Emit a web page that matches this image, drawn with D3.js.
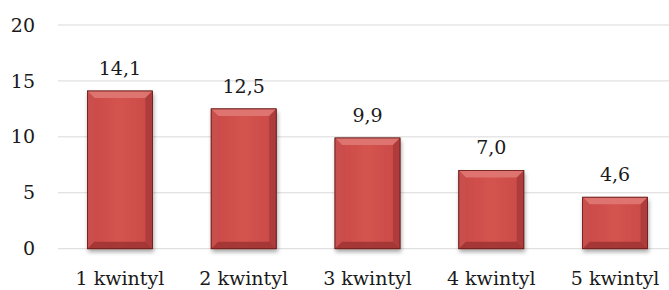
<!DOCTYPE html>
<html><head><meta charset="utf-8">
<script src="https://cdn.jsdelivr.net/npm/d3@7"></script>
<style>body{margin:0;background:#fff}svg{display:block}</style>
</head><body>
<script>
const categories = ["1 kwintyl","2 kwintyl","3 kwintyl","4 kwintyl","5 kwintyl"];
const values = [14.1, 12.5, 9.9, 7.0, 4.6];
const yTicks = [0, 5, 10, 15, 20];

const W = 669, H = 290;
const svg = d3.select("body").append("svg").attr("width", W).attr("height", H);
const font = "'DejaVu Serif', 'Liberation Serif', serif";
const fs = 19;

const x = d3.scaleBand().domain(categories).range([58, 677]).paddingInner(0.475).paddingOuter(0.2375);
const y = d3.scaleLinear().domain([0, 20]).range([248.7, 25]);

const defs = svg.append("defs");
const g1 = defs.append("linearGradient").attr("id","barg").attr("x1",0).attr("x2",1).attr("y1",0).attr("y2",0);
g1.append("stop").attr("offset","0%").attr("stop-color","#c94a48");
g1.append("stop").attr("offset","50%").attr("stop-color","#d4534f");
g1.append("stop").attr("offset","100%").attr("stop-color","#c94a48");
const f = defs.append("filter").attr("id","sh").attr("x","-20%").attr("y","-20%").attr("width","140%").attr("height","140%");
f.append("feGaussianBlur").attr("in","SourceAlpha").attr("stdDeviation",2);
f.append("feOffset").attr("dx",1).attr("dy",3).attr("result","b");
f.append("feComponentTransfer").append("feFuncA").attr("type","linear").attr("slope",0.35);
const m = f.append("feMerge"); m.append("feMergeNode"); m.append("feMergeNode").attr("in","SourceGraphic");

// grid
svg.append("g").selectAll("line").data(yTicks).join("line")
  .attr("x1", 58).attr("x2", W).attr("y1", d=>y(d)).attr("y2", d=>y(d))
  .attr("stroke", "#d9d9d9").attr("stroke-width", 1);

// y axis labels
const yAxis = d3.axisLeft(y).tickValues(yTicks).tickSize(0).tickPadding(0);
const ya = svg.append("g").attr("transform","translate(35,0)").call(yAxis);
ya.select(".domain").remove();
ya.selectAll("text").attr("font-family", font).attr("font-size", fs).attr("fill","#1a1a1a");

// x axis labels
const xAxis = d3.axisBottom(x).tickSize(0).tickPadding(0);
const xa = svg.append("g").attr("transform","translate(0,271.5)").call(xAxis);
xa.select(".domain").remove();
xa.selectAll("text").attr("font-family", font).attr("font-size", fs).attr("fill","#1a1a1a");

// bars
const bw = x.bandwidth();
const bev = 7;
const bars = svg.append("g").selectAll("g").data(values).join("g")
  .attr("transform", (d,i)=>`translate(${x(categories[i])},0)`);
bars.append("rect").attr("x",0).attr("y",d=>y(d)).attr("width",bw).attr("height",d=>y(0)-y(d))
  .attr("fill","url(#barg)").attr("stroke","#6e1e1c").attr("stroke-width",0.8).attr("filter","url(#sh)");
bars.append("path").attr("d", d=>`M0,${y(d)} L${bw},${y(d)} L${bw-bev},${y(d)+bev} L${bev},${y(d)+bev} Z`)
  .attr("fill","#e07a76").attr("opacity",0.85);
bars.append("path").attr("d", d=>`M0,${y(d)} L${bev},${y(d)+bev} L${bev},${y(0)-bev} L0,${y(0)} Z`)
  .attr("fill","#c8504d").attr("opacity",0.85);
bars.append("path").attr("d", d=>`M${bw},${y(d)} L${bw-bev},${y(d)+bev} L${bw-bev},${y(0)-bev} L${bw},${y(0)} Z`)
  .attr("fill","#a9393a").attr("opacity",0.85);
bars.append("path").attr("d", d=>`M0,${y(0)} L${bev},${y(0)-bev} L${bw-bev},${y(0)-bev} L${bw},${y(0)} Z`)
  .attr("fill","#9e3432").attr("opacity",0.85);
bars.append("rect").attr("x",0).attr("y",d=>y(d)).attr("width",bw).attr("height",d=>y(0)-y(d))
  .attr("fill","none").attr("stroke","#6e1e1c").attr("stroke-width",0.8);

// value labels
bars.append("text").attr("x", bw/2).attr("y", d=>y(d)-16).attr("text-anchor","middle")
  .attr("font-family", font).attr("font-size", fs).attr("fill","#1a1a1a")
  .text(d=>d.toFixed(1).replace(".", ","));
</script>
</body></html>
